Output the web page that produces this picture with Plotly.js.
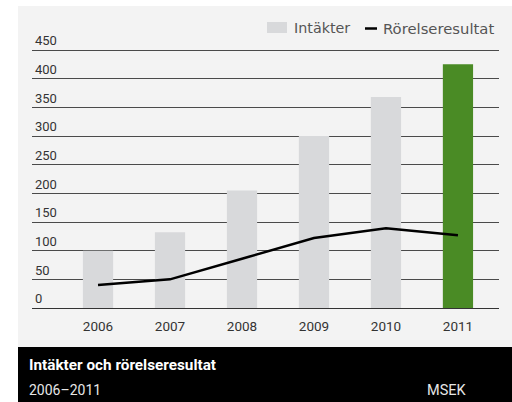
<!DOCTYPE html>
<html>
<head>
<meta charset="utf-8">
<script src="https://cdn.plot.ly/plotly-3.0.1.min.js"></script>
<style>
html,body{margin:0;padding:0;background:#fff;}
#chart{width:512px;height:402px;}
</style>
</head>
<body>
<div id="chart"></div>
<script>
var years = ['2006', '2007', '2008', '2009', '2010', '2011'];
var revenue = [100, 132, 205, 300, 368, 425];
var ebit = [40, 50, 86, 122, 139, 127];
var yTicks = [0, 50, 100, 150, 200, 250, 300, 350, 400, 450];
var seriesNames = ['Intäkter', 'Rörelseresultat'];
var titleText = 'Intäkter och rörelseresultat';
var subtitleText = '2006–2011';
var unitText = 'MSEK';

var W = 512, H = 402;
var M = {l: 32, r: 13, t: 20, b: 94};
var PW = W - M.l - M.r, PH = H - M.t - M.b;
function px(x) { return (x - M.l) / PW; }
function py(y) { return (H - M.b - y) / PH; }
var yMax = 450 * PH / (H - M.b - 50);

var barColors = years.map(function (y, i) { return i === years.length - 1 ? '#4a8b25' : '#d8d9db'; });

var traces = [
  {type: 'bar', x: years, y: revenue, name: seriesNames[0], width: 0.42,
   marker: {color: barColors, line: {width: 0}}, showlegend: false, hoverinfo: 'skip'},
  {type: 'scatter', mode: 'lines', x: years, y: ebit, name: seriesNames[1],
   line: {color: '#000', width: 2.5}, showlegend: false, hoverinfo: 'skip'}
];

var layout = {
  width: W, height: H,
  margin: M,
  paper_bgcolor: '#ffffff',
  plot_bgcolor: 'rgba(0,0,0,0)',
  font: {family: 'Roboto, sans-serif', size: 13, color: '#333'},
  xaxis: {type: 'category', range: [-0.917, 5.57], showgrid: false, zeroline: false,
          showline: false, ticks: '', tickfont: {family: 'Roboto', size: 13.5, color: '#333'},
          ticklabelstandoff: 8, fixedrange: true},
  yaxis: {range: [0, yMax], tickvals: yTicks, ticktext: yTicks.map(String),
          showgrid: true, gridcolor: '#4a4a4a', gridwidth: 1,
          zeroline: true, zerolinecolor: '#333', zerolinewidth: 1,
          showline: false, ticks: '', ticklabelposition: 'inside top',
          tickfont: {family: 'Roboto', size: 13, color: '#333'}, fixedrange: true},
  shapes: [
    {type: 'rect', xref: 'paper', yref: 'paper', x0: px(18), x1: px(512), y0: py(347), y1: py(6),
     fillcolor: '#f3f3f3', line: {width: 0}, layer: 'below'},
    {type: 'rect', xref: 'paper', yref: 'paper', x0: px(18), x1: px(512), y0: py(402), y1: py(347),
     fillcolor: '#000000', line: {width: 0}, layer: 'above'},
    {type: 'rect', xref: 'paper', yref: 'paper', x0: px(267), x1: px(287), y0: py(33), y1: py(22),
     fillcolor: '#d8d9db', line: {width: 0}, layer: 'above'},
    {type: 'line', xref: 'paper', yref: 'paper', x0: px(365), x1: px(377), y0: py(28.5), y1: py(28.5),
     line: {color: '#000', width: 2.5}, layer: 'above'}
  ],
  annotations: [
    {xref: 'paper', yref: 'paper', x: px(292), y: py(28), xanchor: 'left', yanchor: 'middle',
     text: seriesNames[0], showarrow: false, font: {family: 'DejaVu Sans', size: 14.3, color: '#555'}},
    {xref: 'paper', yref: 'paper', x: px(381), y: py(28), xanchor: 'left', yanchor: 'middle',
     text: seriesNames[1], showarrow: false, font: {family: 'DejaVu Sans', size: 14.8, color: '#555'}},
    {xref: 'paper', yref: 'paper', x: px(27), y: py(365), xanchor: 'left', yanchor: 'middle',
     text: '<b>' + titleText + '</b>', showarrow: false, font: {family: 'Roboto', size: 15.3, color: '#fff'}},
    {xref: 'paper', yref: 'paper', x: px(27), y: py(390), xanchor: 'left', yanchor: 'middle',
     text: subtitleText, showarrow: false, font: {family: 'Roboto', size: 14, color: '#e6e6e6'}},
    {xref: 'paper', yref: 'paper', x: px(469), y: py(390), xanchor: 'right', yanchor: 'middle',
     text: unitText, showarrow: false, font: {family: 'Roboto', size: 14.5, color: '#e6e6e6'}}
  ]
};

Plotly.newPlot('chart', traces, layout, {displayModeBar: false, staticPlot: true});
</script>
</body>
</html>
